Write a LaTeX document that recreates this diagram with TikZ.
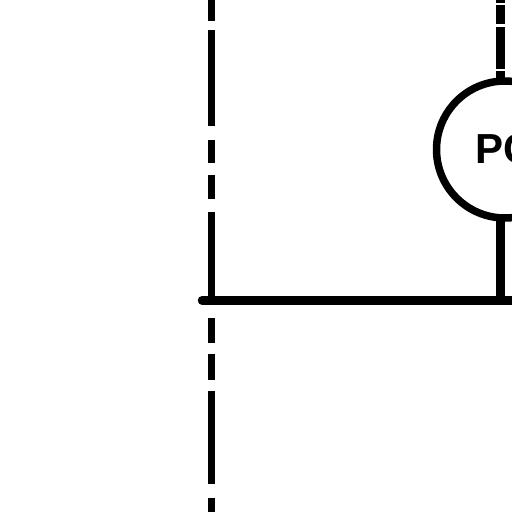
\documentclass[tikz,border=0pt]{standalone}
\usepackage{fontspec}
\setmainfont{Liberation Sans}
\begin{document}
\begin{tikzpicture}[x=1pt,y=-1pt]

\tikzstyle{wire}=[line width=7.5pt,black]
\tikzstyle{meter}=[circle,draw,line width=7.5pt,minimum size=137pt,inner sep=0pt,outer sep=0pt,font=\fontsize{42}{42}\selectfont\bfseries]

\clip (0,0) rectangle (512,512);
\useasboundingbox (0,0) rectangle (512,512);

%meter
\node[meter] (pc) at (505,149.5) {PC};

%bus
\coordinate (busleft) at (202,300.3);
\coordinate (busright) at (512,300.3);
\draw[wire,line width=8.5pt,line cap=round] (busleft) -- (busright);

%left dashed line
\coordinate (lefttop) at (211.5,0);
\coordinate (leftbot) at (211.5,512);
\draw[wire,dash pattern=on 21pt off 9pt on 96pt off 14pt on 23pt off 12pt on 24pt off 13pt on 88pt off 18pt on 25pt off 11pt on 26pt off 11pt on 93pt off 14pt on 20pt off 20pt] (lefttop) -- (leftbot);

%connections
\coordinate (pctop) at (500.5,0);
\draw[wire,line width=9pt,dash pattern=on 3pt off 2pt on 19pt off 3pt on 42pt off 2pt on 20pt off 10pt] (pctop) -- (pctop |- pc.north);
\draw[wire,line width=9pt] (pctop |- pc.south) -- (pctop |- busleft);

\end{tikzpicture}
\end{document}
